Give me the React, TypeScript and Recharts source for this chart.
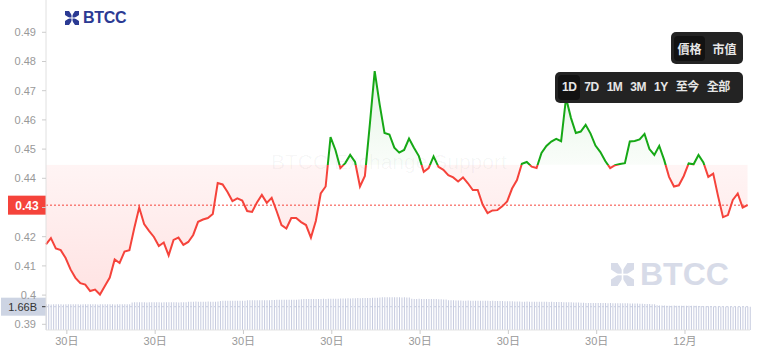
import React from 'react';
import { ComposedChart, Area, Bar, XAxis, YAxis, ReferenceLine } from 'recharts';

// price samples, every other 5-min step
const prices = [
  0.4174, 0.4195, 0.4160, 0.4154, 0.4127, 0.4088, 0.4059, 0.4041, 0.4036, 0.4014,
  0.4019, 0.4002, 0.4031, 0.4060, 0.4122, 0.4110, 0.4149, 0.4154, 0.4230, 0.4300,
  0.4243, 0.4220, 0.4199, 0.4168, 0.4180, 0.4136, 0.4189, 0.4197, 0.4172, 0.4182,
  0.4206, 0.4251, 0.4259, 0.4264, 0.4278, 0.4384, 0.4379, 0.4353, 0.4322, 0.4331,
  0.4324, 0.4288, 0.4285, 0.4317, 0.4343, 0.4316, 0.4333, 0.4288, 0.4240, 0.4228,
  0.4264, 0.4264, 0.4250, 0.4240, 0.4197, 0.4254, 0.4348, 0.4372, 0.4541, 0.4497,
  0.4435, 0.4452, 0.4480, 0.4456, 0.4372, 0.4408, 0.4583, 0.4767, 0.4654, 0.4555,
  0.4550, 0.4505, 0.4488, 0.4497, 0.4536, 0.4505, 0.4476, 0.4422, 0.4435, 0.4475,
  0.4439, 0.4429, 0.4411, 0.4403, 0.4389, 0.4403, 0.4383, 0.4360, 0.4360, 0.4310,
  0.4281, 0.4290, 0.4291, 0.4304, 0.4321, 0.4365, 0.4394, 0.4450, 0.4456, 0.4440,
  0.4435, 0.4487, 0.4511, 0.4526, 0.4535, 0.4527, 0.4675, 0.4607, 0.4555, 0.4560,
  0.4583, 0.4553, 0.4512, 0.4490, 0.4459, 0.4435, 0.4445, 0.4449, 0.4452, 0.4526,
  0.4528, 0.4533, 0.4552, 0.4500, 0.4480, 0.4511, 0.4463, 0.4405, 0.4372, 0.4376,
  0.4408, 0.4451, 0.4448, 0.4480, 0.4454, 0.4405, 0.4416, 0.4338, 0.4267, 0.4274,
  0.4326, 0.4348, 0.4300, 0.4308,
];

// volume in billions, one per 5-min step
const volumes = [
  1.83, 1.83, 1.82, 1.83, 1.84, 1.83, 1.83, 1.82, 1.83, 1.83,
  1.84, 1.83, 1.83, 1.83, 1.82, 1.83, 1.84, 1.83, 1.83, 1.83,
  1.83, 1.82, 1.83, 1.83, 1.84, 1.83, 1.83, 1.83, 1.82, 1.83,
  1.83, 1.84, 1.83, 1.83, 1.84,
  1.96, 1.97, 1.97, 1.98, 1.97, 1.97, 1.96, 1.97, 1.98, 1.97,
  1.97, 1.97, 1.96, 1.97, 1.97, 1.98, 1.97, 1.97, 1.97, 1.96,
  1.97, 1.98, 1.97,
  2.01, 2.02, 2.02, 2.03, 2.02, 2.02, 2.01, 2.02, 2.03, 2.02, 2.02, 2.02, 2.03,
  2.07, 2.08, 2.08, 2.09, 2.08, 2.08, 2.08, 2.09, 2.08, 2.08, 2.09,
  2.11, 2.11, 2.12, 2.11, 2.11, 2.12, 2.11, 2.12, 2.11, 2.12, 2.13,
  2.14, 2.15, 2.15, 2.16, 2.15, 2.15, 2.16, 2.15, 2.16, 2.16, 2.17,
  2.19, 2.20, 2.20, 2.21, 2.20, 2.21, 2.20, 2.21, 2.21, 2.22, 2.21, 2.22, 2.22, 2.23, 2.22, 2.23,
  2.24, 2.25, 2.25, 2.26, 2.25, 2.26, 2.26, 2.27, 2.26, 2.27, 2.27, 2.28, 2.28, 2.29, 2.29, 2.30,
  2.32, 2.33, 2.33, 2.34, 2.33, 2.33, 2.34, 2.33, 2.33, 2.32, 2.33, 2.32, 2.31,
  2.22, 2.21, 2.21, 2.22, 2.21, 2.21, 2.20, 2.21, 2.21, 2.20, 2.20, 2.19, 2.19, 2.18, 2.17,
  2.12, 2.11, 2.11, 2.10, 2.10, 2.10, 2.09, 2.09, 2.10, 2.09, 2.09, 2.09, 2.08, 2.09, 2.08,
  2.08, 2.08, 2.07, 2.08, 2.07, 2.07, 2.06, 2.06, 2.05, 2.05,
  2.04, 2.04, 2.03, 2.03, 2.03, 2.02, 2.02, 2.03, 2.02, 2.02, 2.02, 2.01, 2.02, 2.01, 2.01,
  2.01, 2.00, 2.01, 2.00, 2.00, 1.99, 1.99, 1.98, 1.98, 1.97, 1.97, 1.96, 1.96, 1.95,
  1.94, 1.94, 1.93, 1.93, 1.93, 1.92, 1.92, 1.93, 1.92, 1.92, 1.92, 1.91, 1.92, 1.91, 1.91,
  1.91, 1.90, 1.91, 1.90, 1.90, 1.89, 1.89, 1.88, 1.88, 1.87, 1.87,
  1.86, 1.85, 1.85, 1.84, 1.83,
  1.76, 1.75, 1.74, 1.74, 1.73, 1.73, 1.73, 1.74, 1.73, 1.73, 1.73, 1.72, 1.73, 1.73, 1.72,
  1.72, 1.72, 1.71, 1.71, 1.70, 1.70, 1.69, 1.69,
  1.68, 1.67, 1.67, 1.67, 1.66, 1.66, 1.67, 1.66, 1.66, 1.66, 1.66, 1.66, 1.65, 1.66, 1.66, 1.66,
];

const baseline = 0.4446; // opening price, green above / red below
const yTicks = [0.39, 0.4, 0.41, 0.42, 0.43, 0.44, 0.45, 0.46, 0.47, 0.48, 0.49];
const xTicks = [8.5, 44.5, 80.5, 116.5, 152.5, 188.5, 224.5, 260.5];
const xTickLabels = ['30日', '30日', '30日', '30日', '30日', '30日', '30日', '12月'];
const modeButtons = ['價格', '市值'];
const rangeButtons = ['1D', '7D', '1M', '3M', '1Y', '至今', '全部'];

const GREEN = '#16a816';
const RED = '#f5433b';
const FONT = '"Liberation Sans", Arial, "Noto Sans CJK TC", sans-serif';

const chartData = volumes.map((vol, i) => ({
  i,
  vol,
  price: i % 2 === 0 && i / 2 < prices.length ? prices[i / 2] : null,
}));

const lastPrice = prices[prices.length - 1];
const lastVol = volumes[volumes.length - 1];
const pMax = Math.max(...prices);
const pMin = Math.min(...prices);
const splitOff = (pMax - baseline) / (pMax - pMin);

// the price tag sits on top of this tick, so its label is left blank
const fmtPriceTick = (v: number) =>
  Math.abs(v - lastPrice) < 0.005 ? '' : String(Number(v.toFixed(2)));

function PriceTag(props: any) {
  const { viewBox } = props;
  if (!viewBox) return null;
  return (
    <g>
      <rect x={viewBox.x - 38} y={viewBox.y - 9.5} width={38} height={19} fill={RED} />
      <text x={viewBox.x - 19} y={viewBox.y + 4.5} textAnchor="middle" fill="#fff" fontSize={12} fontWeight="bold" fontFamily={FONT}>
        {lastPrice.toFixed(2)}
      </text>
    </g>
  );
}

function VolTag(props: any) {
  const { viewBox } = props;
  if (!viewBox) return null;
  return (
    <g>
      <rect x={viewBox.x - 45} y={viewBox.y - 9} width={45} height={18} fill="#cdd4e3" />
      <text x={viewBox.x - 9} y={viewBox.y + 4} textAnchor="end" fill="#333" fontSize={11} fontFamily={FONT}>
        {lastVol.toFixed(2)}B
      </text>
      <line x1={viewBox.x - 4} x2={viewBox.x} y1={viewBox.y} y2={viewBox.y} stroke="#333" />
    </g>
  );
}

function Logo({ size, color }: { size: number; color: string }) {
  return (
    <svg width={size} height={size} viewBox="0 0 14 14" style={{ display: 'block' }}>
      <path d="M0 0 H4 L7 4.6 L10 0 H14 V4 L9.4 7 L14 10 V14 H10 L7 9.4 L4 14 H0 V10 L4.6 7 L0 4 Z" fill={color} />
      <line x1="7" y1="0" x2="7" y2="14" stroke="#fff" strokeWidth="1" />
      <line x1="0" y1="7" x2="14" y2="7" stroke="#fff" strokeWidth="1" />
    </svg>
  );
}

export default function App() {
  return (
    <div style={{ position: 'relative', width: 760, height: 360, background: '#fff', fontFamily: FONT, overflow: 'hidden' }}>
      <style>{'body{margin:0}'}</style>

      {/* watermarks */}
      <div style={{ position: 'absolute', left: 271, top: 150, fontSize: 21, color: 'rgba(0,0,0,0.04)', whiteSpace: 'nowrap' }}>
        BTCC Exchange Support
      </div>
      <div style={{ position: 'absolute', left: 611, top: 262, display: 'flex', alignItems: 'center', gap: 6 }}>
        <Logo size={23} color="#d7dbe8" />
        <span style={{ fontSize: 32, fontWeight: 'bold', color: '#d7dbe8', lineHeight: '24px' }}>BTCC</span>
      </div>

      <div style={{ position: 'absolute', left: 0, top: 0 }}>
        <ComposedChart width={760} height={360} data={chartData} margin={{ top: 0, right: 10, bottom: 0, left: 0 }}>
          <defs>
            <linearGradient id="priceStroke" x1="0" y1="0" x2="0" y2="1">
              <stop offset={splitOff} stopColor={GREEN} />
              <stop offset={splitOff} stopColor={RED} />
            </linearGradient>
            <linearGradient id="priceFill" x1="0" y1="0" x2="0" y2="1">
              <stop offset={0} stopColor="#22ab22" stopOpacity={0.2} />
              <stop offset={splitOff} stopColor="#22ab22" stopOpacity={0.04} />
              <stop offset={splitOff} stopColor="#ff4b4b" stopOpacity={0.1} />
              <stop offset={1} stopColor="#ff4b4b" stopOpacity={0.26} />
            </linearGradient>
          </defs>
          <XAxis
            dataKey="i"
            type="number"
            domain={[0, volumes.length - 1]}
            ticks={xTicks}
            interval={0}
            tickFormatter={(v: number) => xTickLabels[xTicks.indexOf(v)]}
            height={30}
            tickSize={4}
            tickMargin={3}
            axisLine={{ stroke: '#e3e3e3' }}
            tickLine={{ stroke: '#ccc' }}
            tick={{ fill: '#999', fontSize: 11, fontFamily: FONT }}
          />
          <YAxis
            yAxisId="price"
            domain={[0.38805, 0.50106]}
            allowDataOverflow
            ticks={yTicks}
            interval={0}
            tickFormatter={fmtPriceTick}
            width={46}
            tickSize={4}
            tickMargin={6}
            axisLine={{ stroke: '#e0e0e0' }}
            tickLine={{ stroke: '#ccc' }}
            tick={{ fill: '#999', fontSize: 11, fontFamily: FONT }}
          />
          <YAxis yAxisId="vol" hide domain={[0, 23.5]} />
          <Bar dataKey="vol" yAxisId="vol" barSize={1} fill="#c6cbdf" isAnimationActive={false} />
          <ReferenceLine y={lastVol} yAxisId="vol" stroke="#c9cee0" strokeDasharray="2 2" label={<VolTag />} />
          <Area
            type="linear"
            dataKey="price"
            yAxisId="price"
            baseValue={baseline}
            connectNulls
            stroke="url(#priceStroke)"
            strokeWidth={2}
            fill="url(#priceFill)"
            dot={false}
            activeDot={false}
            isAnimationActive={false}
          />
          <ReferenceLine y={lastPrice} yAxisId="price" stroke={RED} strokeDasharray="2 2" label={<PriceTag />} />
        </ComposedChart>
      </div>

      {/* top-left logo */}
      <div style={{ position: 'absolute', left: 65, top: 11, display: 'flex', alignItems: 'center', gap: 4 }}>
        <Logo size={14} color="#2b3a93" />
        <span style={{ fontSize: 16, fontWeight: 'bold', color: '#2b3a93', lineHeight: '14px', letterSpacing: -0.3 }}>BTCC</span>
      </div>

      {/* mode toggle */}
      <div style={{ position: 'absolute', left: 671, top: 32, width: 72, height: 32, background: '#232323', borderRadius: 5, display: 'flex', alignItems: 'center', padding: '0 3px', boxSizing: 'border-box' }}>
        {modeButtons.map((b, idx) => (
          <div key={b} style={{ width: 31, height: 25, lineHeight: '25px', textAlign: 'center', fontSize: 12, fontWeight: 'bold', color: '#e6e6e6', background: idx === 0 ? '#121212' : 'transparent', borderRadius: 4, marginRight: idx === 0 ? 4 : 0, fontFamily: '"Noto Sans CJK TC", sans-serif' }}>
            {b}
          </div>
        ))}
      </div>

      {/* range buttons */}
      <div style={{ position: 'absolute', left: 555, top: 72, width: 188, height: 31, background: '#232323', borderRadius: 5, display: 'flex', alignItems: 'center', padding: '0 3px', boxSizing: 'border-box' }}>
        {rangeButtons.map((b, idx) => (
          <div key={b} style={{ padding: '0 4px', height: 25, lineHeight: '25px', fontSize: 12, fontWeight: 'bold', color: '#e6e6e6', background: idx === 0 ? '#121212' : 'transparent', borderRadius: 4, fontFamily: '"Liberation Sans", "Noto Sans CJK TC", sans-serif', letterSpacing: -0.5 }}>
            {b}
          </div>
        ))}
      </div>
    </div>
  );
}
